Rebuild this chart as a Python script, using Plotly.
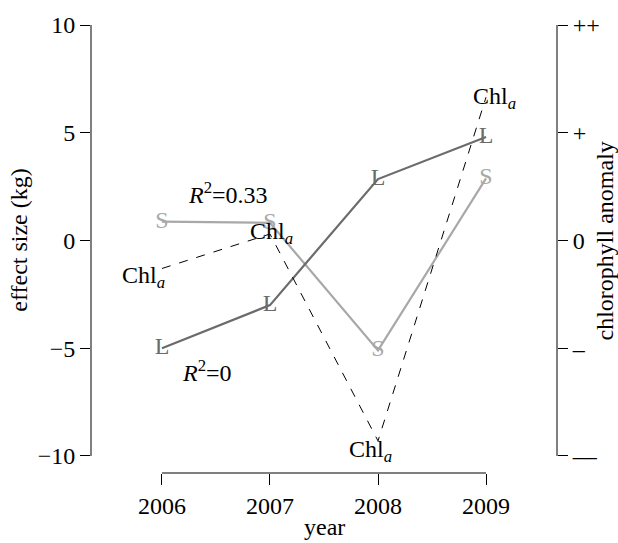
import plotly.graph_objects as go

years = [2006, 2007, 2008, 2009]
large = [-5.0, -3.0, 2.85, 4.8]        # "L" series, effect size (kg)
small = [0.88, 0.82, -5.1, 2.88]       # "S" series, effect size (kg)
chl = [-0.26, 0.06, -1.86, 1.33]       # chlorophyll anomaly (right axis units)
y_ticks = [-10, -5, 0, 5, 10]
chl_ticks = [-2, -1, 0, 1, 2]
chl_ticktext = ["\u2013\u2013", "\u2013", "0", "+", "++"]

FONT = "Liberation Serif"
FS = 24
DARK = "#6b6b6b"
LIGHT = "#a8a8a8"

fig = go.Figure()

fig.add_trace(go.Scatter(
    x=years, y=chl, yaxis="y2", mode="lines",
    line=dict(color="black", width=1, dash="dash"), showlegend=False))

fig.add_trace(go.Scatter(
    x=years, y=small, mode="lines+text", text=["S"] * 4,
    textposition="middle center",
    textfont=dict(family=FONT, size=FS, color=LIGHT),
    line=dict(color=LIGHT, width=2.2), showlegend=False))

fig.add_trace(go.Scatter(
    x=years, y=large, mode="lines+text", text=["L"] * 4,
    textposition="middle center",
    textfont=dict(family=FONT, size=FS, color=DARK),
    line=dict(color=DARK, width=2.2), showlegend=False))

ann = []
# Chl_a labels (pixel offsets relative to each vertex)
chl_offsets = [(-18, 8), (2, -1), (-8, 10), (8, 1)]
for yr, v, (dx, dy) in zip(years, chl, chl_offsets):
    ann.append(dict(x=yr, y=v, xref="x", yref="y2", text="Chl<sub><i>a</i></sub>",
                    showarrow=False, xshift=dx, yshift=-dy,
                    font=dict(family=FONT, size=FS, color="black")))

ann.append(dict(x=2006.61, y=2.2, xref="x", yref="y", text="<i>R</i><sup>2</sup>=0.33",
                showarrow=False, font=dict(family=FONT, size=FS, color="black")))
ann.append(dict(x=2006.42, y=-6.05, xref="x", yref="y", text="<i>R</i><sup>2</sup>=0",
                showarrow=False, font=dict(family=FONT, size=FS, color="black")))

# axis titles
ann.append(dict(x=-0.154, y=0, xref="paper", yref="y", text="effect size (kg)",
                xanchor="center", yanchor="middle",
                textangle=-90, showarrow=False, font=dict(family=FONT, size=FS, color="black")))
ann.append(dict(x=2007.5, y=0, xref="x", yref="paper", yshift=-69, text="year",
                xanchor="center", yanchor="bottom",
                showarrow=False, font=dict(family=FONT, size=FS, color="black")))
ann.append(dict(x=1.103, y=0, xref="paper", yref="y", text="chlorophyll anomaly",
                xanchor="center", yanchor="middle",
                textangle=-90, showarrow=False, font=dict(family=FONT, size=FS, color="black")))

shapes = [
    dict(type="line", xref="paper", yref="y", x0=0, x1=0, y0=-10, y1=10,
         line=dict(color="black", width=1)),
    dict(type="line", xref="paper", yref="y", x0=1, x1=1, y0=-10, y1=10,
         line=dict(color="black", width=1)),
    dict(type="line", xref="x", yref="paper", x0=2006, x1=2009, y0=0, y1=0,
         line=dict(color="black", width=1)),
]

fig.update_layout(
    width=618, height=543,
    margin=dict(l=91, r=61, t=25, b=70),
    paper_bgcolor="white", plot_bgcolor="white",
    font=dict(family=FONT, size=FS, color="black"),
    xaxis=dict(range=[2005.343, 2009.657], tickvals=years, ticks="outside",
               ticklen=11, tickcolor="black", showgrid=False, zeroline=False,
               showline=False, tickfont=dict(family=FONT, size=FS)),
    yaxis=dict(range=[-10.79, 10], tickvals=y_ticks,
               ticktext=["\u221210", "\u22125", "0", "5", "10"],
               ticks="outside", ticklen=10, tickcolor="black",
               showgrid=False, zeroline=False, showline=False,
               tickfont=dict(family=FONT, size=FS)),
    yaxis2=dict(range=[-10.79 / 5, 2], overlaying="y", side="right",
                tickvals=chl_ticks, ticktext=chl_ticktext, ticks="outside",
                ticklen=10, tickcolor="black", showgrid=False, zeroline=False,
                showline=False, tickfont=dict(family=FONT, size=FS)),
    annotations=ann, shapes=shapes,
)

fig.write_html("out.html", config={"displayModeBar": False})

with open("out.html", "r", encoding="utf-8") as f:
    html = f.read()
html = html.replace("<body>", '<body style="margin:0;padding:0;overflow:hidden">', 1)
with open("out.html", "w", encoding="utf-8") as f:
    f.write(html)
